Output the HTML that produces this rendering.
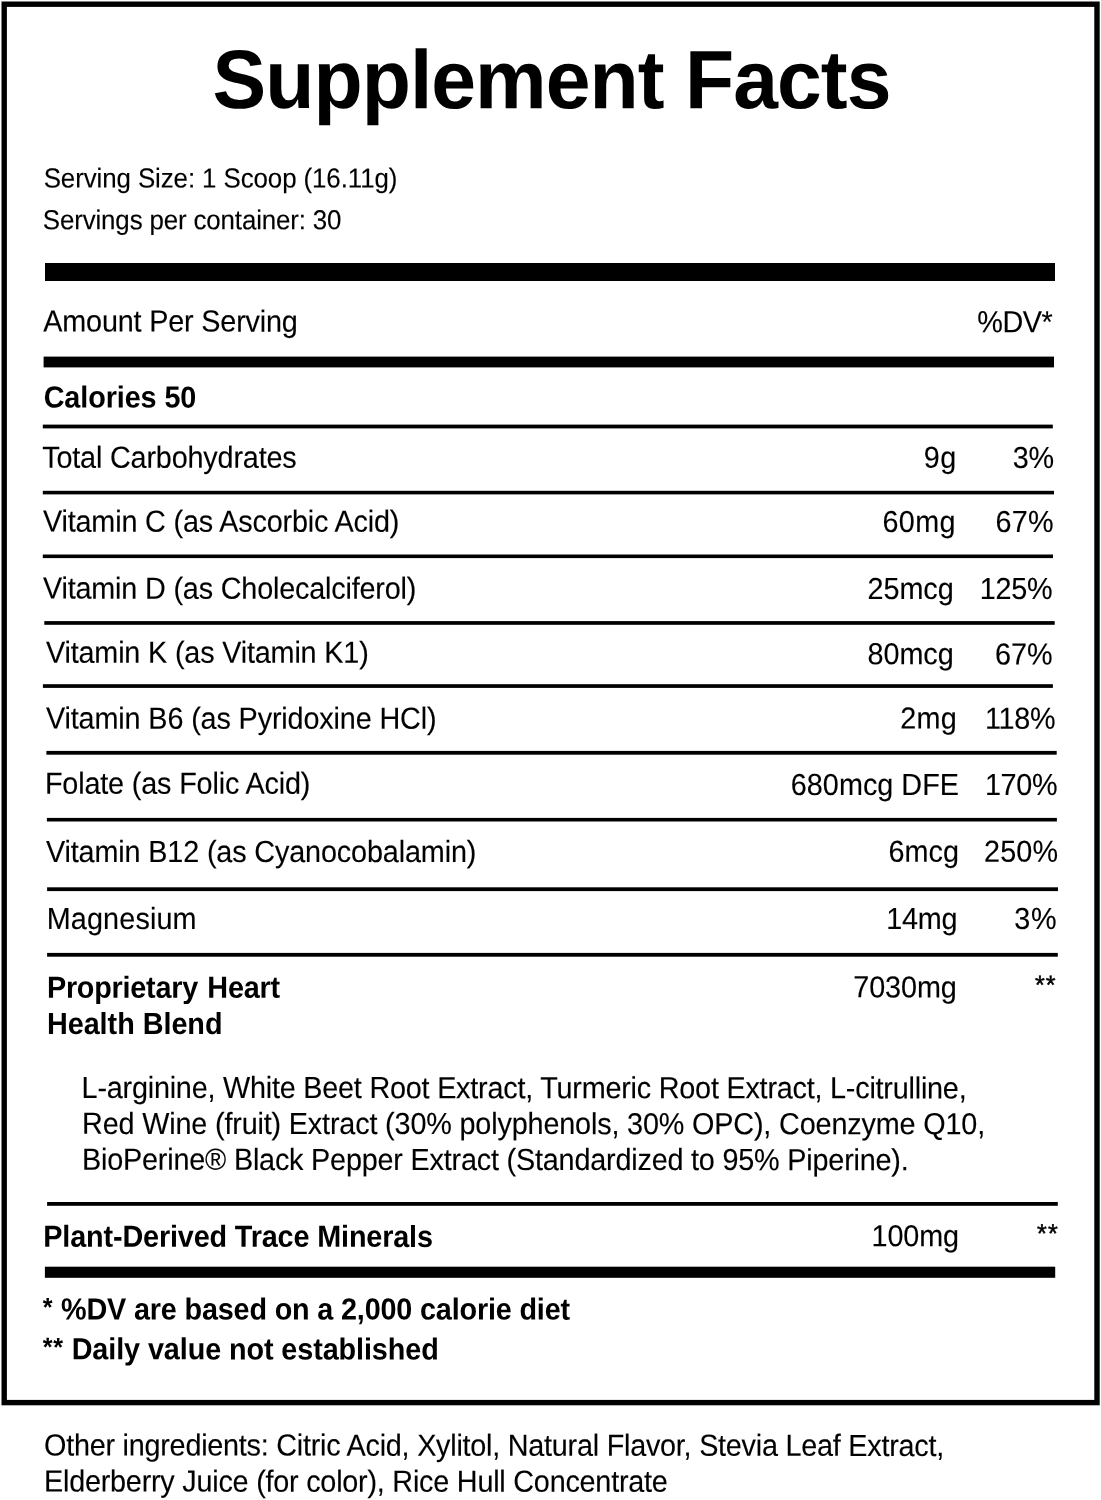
<!DOCTYPE html>
<html lang="en"><head><meta charset="utf-8"><title>Supplement Facts</title>
<style>
html,body{margin:0;padding:0;background:#fff}
body{width:1101px;height:1500px;position:relative;overflow:hidden;font-family:"Liberation Sans",sans-serif;color:#000}
svg{position:absolute;left:0;top:0}
.t{position:absolute;white-space:pre;line-height:1;margin:0;transform-origin:50% 0;transform:matrix(1,0.0005,0,1.06,0,0);-webkit-text-stroke:0.12px #000}
.b{font-weight:bold;-webkit-text-stroke:0}
.a{display:inline-block;font-size:.875em;position:relative;top:-.128em;letter-spacing:.03em}
</style></head><body>
<svg width="1101" height="1500" viewBox="0 0 1101 1500">
<rect x="4.20" y="4.20" width="1092.80" height="1398.40" fill="none" stroke="#000" stroke-width="5.4"/>
<rect x="45.00" y="263.00" width="1010.00" height="18.00" fill="#000"/>
<rect x="43.60" y="356.60" width="1010.40" height="10.80" fill="#000"/>
<rect x="42.80" y="424.60" width="1010.00" height="3.80" fill="#000"/>
<rect x="42.80" y="490.80" width="1011.20" height="3.60" fill="#000"/>
<rect x="42.80" y="554.50" width="1010.20" height="3.60" fill="#000"/>
<rect x="44.30" y="621.10" width="1010.40" height="3.70" fill="#000"/>
<rect x="42.90" y="684.20" width="1010.00" height="3.70" fill="#000"/>
<rect x="46.40" y="750.90" width="1010.30" height="3.80" fill="#000"/>
<rect x="46.90" y="817.90" width="1010.00" height="3.60" fill="#000"/>
<rect x="47.10" y="887.30" width="1010.90" height="3.80" fill="#000"/>
<rect x="47.10" y="952.90" width="1010.70" height="3.80" fill="#000"/>
<rect x="47.10" y="1202.00" width="1010.70" height="3.80" fill="#000"/>
<rect x="44.90" y="1266.70" width="1010.30" height="11.10" fill="#000"/>
</svg>
<div class="t b" style="left:212px;top:38px;font-size:80.5px;letter-spacing:-0.957px;transform:matrix(1,0.0005,0,1.03,0.50,0.16)">Supplement Facts</div>
<div class="t" style="left:43px;top:165px;font-size:25.9px;letter-spacing:-0.093px;transform:matrix(1,0.0005,0,1.06,0.65,0.24)">Serving Size: 1 Scoop (16.11g)</div>
<div class="t" style="left:42px;top:206px;font-size:25.9px;letter-spacing:-0.144px;transform:matrix(1,0.0005,0,1.06,0.85,0.94)">Servings per container: 30</div>
<div class="t" style="left:43px;top:306px;font-size:28.8px;letter-spacing:-0.182px;transform:matrix(1,0.0005,0,1.06,0.25,0.16)">Amount Per Serving</div>
<div class="t" style="left:977px;top:306px;font-size:28.8px;letter-spacing:-0.500px;transform:matrix(1,0.0005,0,1.06,0.35,0.76)">%DV*</div>
<div class="t b" style="left:43px;top:382px;font-size:28.8px;letter-spacing:-0.100px;transform:matrix(1,0.0005,0,1.06,0.65,0.16)">Calories 50</div>
<div class="t" style="left:42px;top:442px;font-size:28.8px;letter-spacing:-0.181px;transform:matrix(1,0.0005,0,1.06,0.25,0.26)">Total Carbohydrates</div>
<div class="t" style="left:923px;top:442px;font-size:28.8px;letter-spacing:0.500px;transform:matrix(1,0.0005,0,1.06,0.80,0.36)">9g</div>
<div class="t" style="left:1012px;top:442px;font-size:28.8px;letter-spacing:-0.250px;transform:matrix(1,0.0005,0,1.06,0.75,0.56)">3%</div>
<div class="t" style="left:42px;top:506px;font-size:28.8px;letter-spacing:-0.174px;transform:matrix(1,0.0005,0,1.06,0.95,0.26)">Vitamin C (as Ascorbic Acid)</div>
<div class="t" style="left:882px;top:506px;font-size:28.8px;letter-spacing:0.333px;transform:matrix(1,0.0005,0,1.06,0.50,0.56)">60mg</div>
<div class="t" style="left:995px;top:506px;font-size:28.8px;letter-spacing:0.250px;transform:matrix(1,0.0005,0,1.06,0.50,0.56)">67%</div>
<div class="t" style="left:42px;top:573px;font-size:28.8px;letter-spacing:-0.183px;transform:matrix(1,0.0005,0,1.06,0.95,0.26)">Vitamin D (as Cholecalciferol)</div>
<div class="t" style="left:867px;top:573px;font-size:28.8px;letter-spacing:-0.050px;transform:matrix(1,0.0005,0,1.06,0.50,0.56)">25mcg</div>
<div class="t" style="left:979px;top:573px;font-size:28.8px;letter-spacing:-0.250px;transform:matrix(1,0.0005,0,1.06,0.75,0.56)">125%</div>
<div class="t" style="left:45px;top:637px;font-size:28.8px;letter-spacing:-0.177px;transform:matrix(1,0.0005,0,1.06,0.95,0.36)">Vitamin K (as Vitamin K1)</div>
<div class="t" style="left:867px;top:638px;font-size:28.8px;letter-spacing:-0.050px;transform:matrix(1,0.0005,0,1.06,0.50,0.86)">80mcg</div>
<div class="t" style="left:995px;top:639px;font-size:28.8px;letter-spacing:0.000px;transform:matrix(1,0.0005,0,1.06,0.00,0.06)">67%</div>
<div class="t" style="left:45px;top:703px;font-size:28.8px;letter-spacing:-0.141px;transform:matrix(1,0.0005,0,1.06,0.95,0.26)">Vitamin B6 (as Pyridoxine HCl)</div>
<div class="t" style="left:900px;top:703px;font-size:28.8px;letter-spacing:0.250px;transform:matrix(1,0.0005,0,1.06,0.30,0.16)">2mg</div>
<div class="t" style="left:984px;top:703px;font-size:28.8px;letter-spacing:-0.267px;transform:matrix(1,0.0005,0,1.06,0.95,0.26)">118%</div>
<div class="t" style="left:44px;top:768px;font-size:28.8px;letter-spacing:-0.162px;transform:matrix(1,0.0005,0,1.06,0.90,0.36)">Folate (as Folic Acid)</div>
<div class="t" style="left:790px;top:769px;font-size:28.8px;letter-spacing:0.017px;transform:matrix(1,0.0005,0,1.06,0.80,0.56)">680mcg DFE</div>
<div class="t" style="left:984px;top:769px;font-size:28.8px;letter-spacing:-0.350px;transform:matrix(1,0.0005,0,1.06,0.95,0.56)">170%</div>
<div class="t" style="left:45px;top:836px;font-size:28.8px;letter-spacing:-0.148px;transform:matrix(1,0.0005,0,1.06,0.95,0.56)">Vitamin B12 (as Cyanocobalamin)</div>
<div class="t" style="left:888px;top:836px;font-size:28.8px;letter-spacing:0.000px;transform:matrix(1,0.0005,0,1.06,0.50,0.26)">6mcg</div>
<div class="t" style="left:984px;top:836px;font-size:28.8px;letter-spacing:0.167px;transform:matrix(1,0.0005,0,1.06,0.00,0.26)">250%</div>
<div class="t" style="left:46px;top:903px;font-size:28.8px;letter-spacing:0.131px;transform:matrix(1,0.0005,0,1.06,0.70,0.56)">Magnesium</div>
<div class="t" style="left:886px;top:903px;font-size:28.8px;letter-spacing:-0.250px;transform:matrix(1,0.0005,0,1.06,0.25,0.56)">14mg</div>
<div class="t" style="left:1014px;top:903px;font-size:28.8px;letter-spacing:0.750px;transform:matrix(1,0.0005,0,1.06,0.25,0.56)">3%</div>
<div class="t b" style="left:46px;top:972px;font-size:28.8px;letter-spacing:-0.228px;word-spacing:1.5px;transform:matrix(1,0.0005,0,1.06,0.90,0.26)">Proprietary Heart</div>
<div class="t" style="left:853px;top:971px;font-size:28.8px;letter-spacing:-0.120px;transform:matrix(1,0.0005,0,1.06,0.30,0.96)">7030mg</div>
<div class="t" style="left:1034px;top:971px;font-size:25.2px;letter-spacing:1.000px;-webkit-text-stroke:0.45px #000;transform:matrix(1,0.0005,0,1.06,0.90,0.65)">**</div>
<div class="t b" style="left:46px;top:1008px;font-size:28.8px;letter-spacing:-0.036px;transform:matrix(1,0.0005,0,1.06,0.90,0.56)">Health Blend</div>
<div class="t" style="left:81px;top:1072px;font-size:28.8px;letter-spacing:-0.222px;transform:matrix(1,0.0005,0,1.06,0.60,0.76)">L-arginine, White Beet Root Extract, Turmeric Root Extract, L-citrulline,</div>
<div class="t" style="left:82px;top:1108px;font-size:28.8px;letter-spacing:-0.165px;transform:matrix(1,0.0005,0,1.06,0.00,0.66)">Red Wine (fruit) Extract (30% polyphenols, 30% OPC), Coenzyme Q10,</div>
<div class="t" style="left:82px;top:1144px;font-size:28.8px;letter-spacing:-0.200px;transform:matrix(1,0.0005,0,1.06,0.00,0.56)">BioPerine® Black Pepper Extract (Standardized to 95% Piperine).</div>
<div class="t b" style="left:43px;top:1221px;font-size:28.8px;letter-spacing:-0.150px;transform:matrix(1,0.0005,0,1.06,0.30,0.36)">Plant-Derived Trace Minerals</div>
<div class="t" style="left:871px;top:1220px;font-size:28.8px;letter-spacing:-0.137px;transform:matrix(1,0.0005,0,1.06,0.55,0.76)">100mg</div>
<div class="t" style="left:1036px;top:1220px;font-size:25.2px;letter-spacing:1.200px;-webkit-text-stroke:0.45px #000;transform:matrix(1,0.0005,0,1.06,0.90,0.35)">**</div>
<div class="t b" style="left:42px;top:1294px;font-size:28.8px;letter-spacing:-0.175px;transform:matrix(1,0.0005,0,1.06,0.65,0.06)"><span class="a">*</span> %DV are based on a 2,000 calorie diet</div>
<div class="t b" style="left:42px;top:1333px;font-size:28.8px;letter-spacing:-0.100px;transform:matrix(1,0.0005,0,1.06,0.65,0.96)"><span class="a">**</span> Daily value not established</div>
<div class="t" style="left:44px;top:1430px;font-size:28.8px;letter-spacing:-0.243px;transform:matrix(1,0.0005,0,1.06,0.00,0.26)">Other ingredients: Citric Acid, Xylitol, Natural Flavor, Stevia Leaf Extract,</div>
<div class="t" style="left:44px;top:1466px;font-size:28.8px;letter-spacing:-0.230px;transform:matrix(1,0.0005,0,1.06,0.00,0.26)">Elderberry Juice (for color), Rice Hull Concentrate</div>
</body></html>
